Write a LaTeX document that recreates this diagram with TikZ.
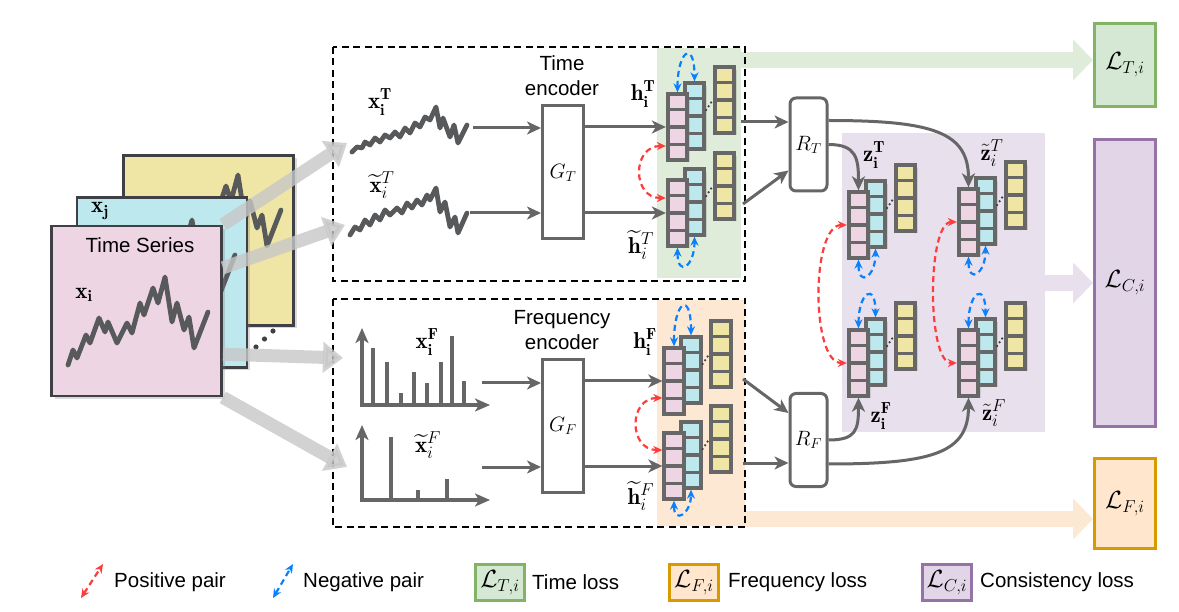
\documentclass[tikz,border=0pt]{standalone}
\usepackage{fontspec}
\usepackage{amsmath}
\newfontfamily\arialfont{Liberation Sans}
\usetikzlibrary{arrows.meta,calc,shadows}

\definecolor{linegray}{HTML}{666666}
\definecolor{seriesgray}{HTML}{58595B}
\definecolor{framegray}{HTML}{3F4045}
\definecolor{embgray}{HTML}{676767}
\definecolor{cellpink}{HTML}{EDD5E4}
\definecolor{cellcyan}{HTML}{BDE9EE}
\definecolor{cellyellow}{HTML}{EFE5A5}
\definecolor{posred}{HTML}{FF3B3B}
\definecolor{negblue}{HTML}{0A80FF}
\definecolor{tband}{HTML}{DFECDA}
\definecolor{fband}{HTML}{FDE8D4}
\definecolor{cband}{HTML}{E8E0ED}
\definecolor{tlossfill}{HTML}{D5E8D4}
\definecolor{tlossdraw}{HTML}{82B366}
\definecolor{flossfill}{HTML}{FFE6CC}
\definecolor{flossdraw}{HTML}{D79B00}
\definecolor{clossfill}{HTML}{E1D5E7}
\definecolor{clossdraw}{HTML}{9673A6}

\tikzset{
  series/.style={seriesgray, line width=4.8pt, line join=round, line cap=round},
  flow/.style={linegray, line width=3pt, -{Stealth[length=14pt,width=13pt,inset=4pt]}},
  axis/.style={linegray, line width=3.2pt, {Stealth[length=15pt,width=13pt,inset=4pt]}-{Stealth[length=15pt,width=13pt,inset=4pt]}},
  bar/.style={linegray, line width=3.6pt},
  enc/.style={draw=linegray, line width=3pt, fill=white, minimum width=41pt, minimum height=133pt, inner sep=0pt, font=\fontsize{22}{24}\selectfont},
  proj/.style={enc, rounded corners=6pt, minimum width=37pt, minimum height=93pt},
  emb/.style={draw=embgray, line width=3.8pt, minimum width=19.5pt, minimum height=65.5pt, inner sep=0pt,
    drop shadow={shadow xshift=2.5pt, shadow yshift=-2.5pt, opacity=0.25}},
  embsep/.style={embgray, line width=3.6pt},
  embdots/.style={black!75, line width=2.6pt, line cap=round, dash pattern=on 0pt off 4.5pt},
  pospair/.style={posred, line width=2.2pt, dash pattern=on 6pt off 4pt,
    {Stealth[length=9pt,width=8pt]}-{Stealth[length=9pt,width=8pt]}},
  negpair/.style={pospair, negblue},
  txt/.style={font=\arialfont\fontsize{20.5}{25}\selectfont, inner sep=0pt},
  lbl/.style={font=\fontsize{23}{26}\selectfont, inner sep=0pt},
  lossbox/.style={line width=3pt, inner sep=0pt, minimum width=61pt, font=\fontsize{26}{28}\selectfont},
  band/.style={line width=16pt, -{Triangle[length=20pt,width=40pt]}},
  feed/.style={black!22, opacity=0.8, line width=13pt, -{Triangle[length=20pt,width=30pt]}},
  viewbox/.style={draw=black, line width=2pt, dash pattern=on 7pt off 4.5pt},
  tsq/.style={draw=framegray, line width=2.8pt, minimum size=170pt, inner sep=0pt,
    drop shadow={shadow xshift=3pt, shadow yshift=-3pt, opacity=0.3}},
  tswave/.pic={
    \draw[series] (68,365) -- (73,350) -- (77,358) -- (86,335) -- (90,343) -- (99,318) -- (105,332)
      -- (108,322) -- (117,343) -- (127,323) -- (132,333) -- (140,303) -- (144,315) -- (153,288)
      -- (158,303) -- (165,277) -- (172,322) -- (177,303) -- (184,330) -- (189,317) -- (194,348) -- (208,312);
  }
}

\newcommand{\embcol}[4]{%
  \node[emb, fill=#4] (#1) at (#2,#3) {};
  \foreach \k in {1,2,3}
    \draw[embsep] ($(#1.north west)!\k/4!(#1.south west)$) -- ($(#1.north east)!\k/4!(#1.south east)$);
}
\newcommand{\embstack}[3]{%
  \embcol{#1y}{#2+47}{#3-27}{cellyellow}
  \embcol{#1c}{#2+17}{#3-11}{cellcyan}
  \draw[embdots] ($(#1c.east)+(0,-6)$) -- (#1y.west);
  \embcol{#1p}{#2}{#3}{cellpink}
}

\begin{document}
\begin{tikzpicture}[x=1pt,y=-1pt]
\useasboundingbox (0,0) rectangle (1179,612);

% shaded groups
\fill[tband] (657,48) rectangle (741,278);
\fill[fband] (657,300) rectangle (745,526);
\fill[cband] (842,133) rectangle (1045,432);

% losses
\node[lossbox, draw=tlossdraw, fill=tlossfill, minimum height=83pt] (lossT) at (1125,65) {$\mathcal{L}_{T,i}$};
\node[lossbox, draw=clossdraw, fill=clossfill, minimum height=287pt] (lossC) at (1125,283) {$\mathcal{L}_{C,i}$};
\node[lossbox, draw=flossdraw, fill=flossfill, minimum height=90pt] (lossF) at (1125,503.5) {$\mathcal{L}_{F,i}$};
\coordinate (bandT) at (740,60);
\coordinate (bandC) at (1044,283);
\coordinate (bandF) at (740,519);
\draw[band, tband] (bandT) -- (lossT.west |- bandT);
\draw[band, cband] (bandC) -- (lossC.west |- bandC);
\draw[band, fband] (bandF) -- (lossF.west |- bandF);

\draw[viewbox] (333,47) rectangle (745,281);
\draw[viewbox] (333,299) rectangle (745,527);

% time series stack
\node[tsq, fill=cellyellow] (tsY) at (208.5,240.5) {};
\pic at (73,-102) {tswave};
\node[tsq, fill=cellcyan] (tsC) at (162,282.5) {};
\pic at (27,-57) {tswave};
\node[tsq, fill=cellpink] (tsI) at (136.5,311) {};
\pic at (0,0) {tswave};
\foreach \d in {0,1,2}
  \fill[framegray] ($(256,347)+\d*(8.5,-8)$) circle (2.6pt);
\node[txt] (tsLabel) at (140,245) {Time Series};
\node[lbl] (xi) at (84,295) {$\mathbf{x}_{\mathbf{i}}$};
\node[lbl] (xj) at (100,211) {$\mathbf{x}_{\mathbf{j}}$};

% time view
\draw[series] (352,152) -- (357,147) -- (362,148) -- (365,142) -- (370,145) -- (375,138) -- (380,142) -- (385,135)
  -- (390,138) -- (395,132) -- (400,137) -- (405,128) -- (410,133) -- (415,123) -- (420,127) -- (425,117)
  -- (430,120) -- (436,107) -- (440,128) -- (443,118) -- (450,137) -- (454,125) -- (458,143) -- (467,125);
\draw[series] (350,235) -- (355,227) -- (360,230) -- (365,220) -- (370,225) -- (375,215) -- (380,220) -- (385,210)
  -- (390,215) -- (397,208) -- (402,213) -- (407,203) -- (412,208) -- (417,200) -- (422,205) -- (427,195)
  -- (430,200) -- (436,188) -- (440,212) -- (445,202) -- (450,227) -- (455,217) -- (458,233) -- (467,213);
\node[lbl] (xT) at (380,102) {$\mathbf{x}_{\mathbf{i}}^{\mathbf{T}}$};
\node[lbl] (xtT) at (382,185) {$\widetilde{\mathbf{x}}_i^T$};
\node[txt, align=center] (encTtext) at (562,76) {Time\\encoder};
\node[enc] (encT) at (563,172.5) {$G_T$};
\coordinate (inT) at (473,128);
\coordinate (intT) at (470,213);
\draw[flow] (inT) -- (encT.west |- inT);
\draw[flow] (intT) -- (encT.west |- intT);

\embstack{hT}{677.5}{127}
\embstack{htT}{677.5}{213}
\draw[flow] (encT.east |- hTp) -- (hTp.west);
\draw[flow] (encT.east |- htTp) -- (htTp.west);
\node[lbl] (hTl) at (643,94) {$\mathbf{h}_{\mathbf{i}}^{\mathbf{T}}$};
\node[lbl] (htTl) at (641,245) {$\widetilde{\mathbf{h}}_i^T$};
\draw[pospair] ($(hTp.west)+(0,19)$) .. controls ($(hTp.west)+(-34,19)$) and ($(htTp.west)+(-34,-15)$) .. ($(htTp.west)+(0,-15)$);
\draw[negpair] (hTp.north) .. controls ($(hTp.north)+(0,-42)$) and ($(hTc.north)+(0,-42)$) .. (hTc.north);
\draw[negpair] (htTp.south) .. controls ($(htTp.south)+(0,30)$) and ($(htTc.south)+(0,30)$) .. (htTc.south);

% frequency view
\draw[axis] (362,328) -- (362,405) -- (490,405);
\foreach \bx/\by in {373/348, 387/362, 401/393, 414/372, 427/383, 441/362, 452/336, 464/381}
  \draw[bar] (\bx,405) -- (\bx,\by);
\draw[axis] (362,425) -- (362,500) -- (490,500);
\foreach \bx/\by in {391/437, 418/490, 447/479}
  \draw[bar] (\bx,500) -- (\bx,\by);
\node[lbl] (xF) at (427,342) {$\mathbf{x}_{\mathbf{i}}^{\mathbf{F}}$};
\node[lbl] (xtF) at (428,445) {$\widetilde{\mathbf{x}}_i^F$};
\node[txt, align=center] (encFtext) at (562,330) {Frequency\\encoder};
\node[enc] (encF) at (563,426) {$G_F$};
\coordinate (inF) at (482,383);
\coordinate (intF) at (482,467);
\draw[flow] (inF) -- (encF.west |- inF);
\draw[flow] (intF) -- (encF.west |- intF);

\embstack{hF}{674}{381}
\embstack{htF}{674}{466}
\draw[flow] (encF.east |- hFp) -- (hFp.west);
\draw[flow] (encF.east |- htFp) -- (htFp.west);
\node[lbl] (hFl) at (645,342) {$\mathbf{h}_{\mathbf{i}}^{\mathbf{F}}$};
\node[lbl] (htFl) at (641,496) {$\widetilde{\mathbf{h}}_i^F$};
\draw[pospair] ($(hFp.west)+(0,17)$) .. controls ($(hFp.west)+(-34,17)$) and ($(htFp.west)+(-34,-16)$) .. ($(htFp.west)+(0,-16)$);
\draw[negpair] (hFp.north) .. controls ($(hFp.north)+(0,-45)$) and ($(hFc.north)+(0,-45)$) .. (hFc.north);
\draw[negpair] (htFp.south) .. controls ($(htFp.south)+(0,24)$) and ($(htFc.south)+(0,24)$) .. (htFc.south);

% feeds from the series
\draw[feed] (tsI.north east) -- (347,143);
\draw[feed] ($(tsI.north east)!0.25!(tsI.south east)$) -- (345,225);
\draw[feed] ($(tsI.north east)!0.75!(tsI.south east)$) -- (343,358);
\draw[feed] (tsI.south east) -- (347,467);

% projectors
\node[proj] (rT) at (808.5,144.5) {$R_T$};
\node[proj] (rF) at (808.5,440) {$R_F$};
\coordinate (outT) at (741,122);
\coordinate (outtT) at (743,204);
\coordinate (outF) at (743,379);
\coordinate (outtF) at (743,463);
\draw[flow] (outT) -- (rT.west |- outT);
\draw[flow] (outtT) -- ($(rT.west)+(0,26)$);
\draw[flow] (outF) -- ($(rF.west)+(0,-27)$);
\draw[flow] (outtF) -- (rF.west |- outtF);

% consistency space
\embstack{zT}{858.5}{225}
\embstack{ztT}{968.5}{222}
\embstack{zF}{858.5}{363}
\embstack{ztF}{968.5}{363}
\node[lbl] (zTl) at (874,155) {$\mathbf{z}_{\mathbf{i}}^{\mathbf{T}}$};
\node[lbl] (ztTl) at (992,153) {$\tilde{\mathbf{z}}_i^T$};
\node[lbl] (zFl) at (881,416) {$\mathbf{z}_{\mathbf{i}}^{\mathbf{F}}$};
\node[lbl] (ztFl) at (994,413) {$\tilde{\mathbf{z}}_i^F$};
\draw[flow] (rT.east) .. controls ($(rT.east)+(28,0)$) and ($(zTp.north)+(0,-32)$) .. (zTp.north);
\draw[flow] ($(rT.east)+(0,-24)$) .. controls ($(rT.east)+(105,-24)$) and ($(ztTp.north)+(0,-55)$) .. (ztTp.north);
\draw[flow] (rF.east) .. controls ($(rF.east)+(28,0)$) and ($(zFp.south)+(0,32)$) .. (zFp.south);
\draw[flow] ($(rF.east)+(0,24)$) .. controls ($(rF.east)+(105,24)$) and ($(ztFp.south)+(0,55)$) .. (ztFp.south);
\draw[pospair] (zTp.west) .. controls ($(zTp.west)+(-36,0)$) and ($(zFp.west)+(-36,0)$) .. (zFp.west);
\draw[pospair] (ztTp.west) .. controls ($(ztTp.west)+(-30,0)$) and ($(ztFp.west)+(-30,0)$) .. (ztFp.west);
\draw[negpair] (zTp.south) .. controls ($(zTp.south)+(0,28)$) and ($(zTc.south)+(0,28)$) .. (zTc.south);
\draw[negpair] (zFp.north) .. controls ($(zFp.north)+(0,-36)$) and ($(zFc.north)+(0,-36)$) .. (zFc.north);
\draw[negpair] (ztTp.south) .. controls ($(ztTp.south)+(0,28)$) and ($(ztTc.south)+(0,28)$) .. (ztTc.south);
\draw[negpair] (ztFp.north) .. controls ($(ztFp.north)+(0,-36)$) and ($(ztFc.north)+(0,-36)$) .. (ztFc.north);

% legend
\coordinate (posA) at (81,598);
\coordinate (posB) at (103,564);
\draw[pospair] (posA) -- (posB);
\node[txt, anchor=west] (posText) at (114,582) {Positive pair};
\coordinate (negA) at (273,598);
\coordinate (negB) at (293,564);
\draw[negpair] (negA) -- (negB);
\node[txt, anchor=west] (negText) at (303,582) {Negative pair};
\node[lossbox, draw=tlossdraw, fill=tlossfill, minimum width=49pt, minimum height=36pt] (keyT) at (500,582.5) {$\mathcal{L}_{T,i}$};
\node[txt, anchor=west] (keyTtext) at (532,582) {Time loss};
\node[lossbox, draw=flossdraw, fill=flossfill, minimum width=49pt, minimum height=36pt] (keyF) at (694,582.5) {$\mathcal{L}_{F,i}$};
\node[txt, anchor=west] (keyFtext) at (728,582) {Frequency loss};
\node[lossbox, draw=clossdraw, fill=clossfill, minimum width=49pt, minimum height=36pt] (keyC) at (947,582.5) {$\mathcal{L}_{C,i}$};
\node[txt, anchor=west] (keyCtext) at (980,582) {Consistency loss};
\end{tikzpicture}
\end{document}
